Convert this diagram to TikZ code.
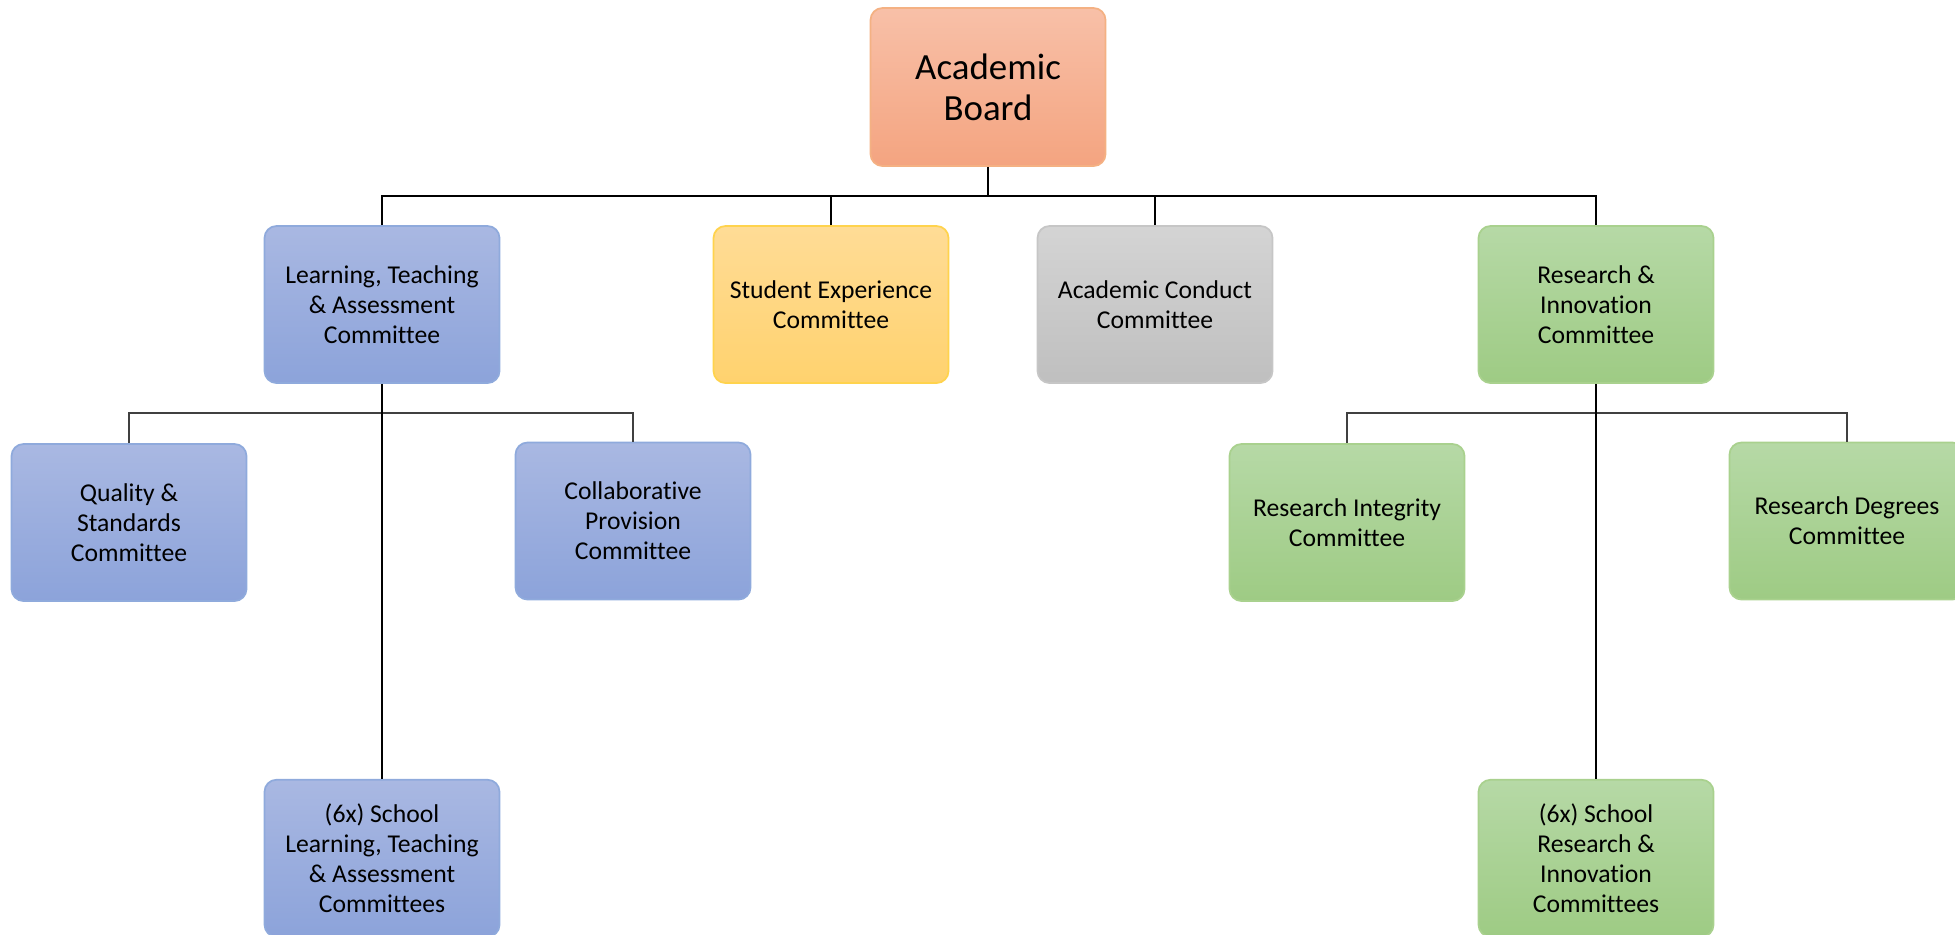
\documentclass[tikz,border=0pt]{standalone}
\usepackage{fontspec}
\setmainfont{Carlito}[Ligatures={NoCommon}]
\usepackage{tikz}
\usepackage{xcolor}
\usetikzlibrary{positioning, calc}
\definecolor{boardtop}{HTML}{F8C0A8}
\definecolor{boardbot}{HTML}{F4A480}
\definecolor{boardline}{HTML}{F4B183}
\definecolor{bluetop}{HTML}{A9B8E2}
\definecolor{bluebot}{HTML}{8CA3DA}
\definecolor{blueline}{HTML}{8FAADC}
\definecolor{yellowtop}{HTML}{FFDC96}
\definecolor{yellowbot}{HTML}{FFD26E}
\definecolor{yellowline}{HTML}{FFD34D}
\definecolor{greytop}{HTML}{D4D4D4}
\definecolor{greybot}{HTML}{BFBFBF}
\definecolor{greyline}{HTML}{C6C6C6}
\definecolor{greentop}{HTML}{B6D9A6}
\definecolor{greenbot}{HTML}{9ECB84}
\definecolor{greenline}{HTML}{A9D18E}
\begin{document}
\begin{tikzpicture}[block/.style={rectangle,rounded corners=1.2mm,line width=0.5pt,minimum width=2.35cm,minimum height=1.57cm,align=center,font=\fontsize{7.3}{8.5}\selectfont},
  board/.style={block,draw=boardline,top color=boardtop,bottom color=boardbot,font=\fontsize{10.5}{11.6}\selectfont},
  bluebox/.style={block,draw=blueline,top color=bluetop,bottom color=bluebot},
  yellowbox/.style={block,draw=yellowline,top color=yellowtop,bottom color=yellowbot},
  greybox/.style={block,draw=greyline,top color=greytop,bottom color=greybot},
  greenbox/.style={block,draw=greenline,top color=greentop,bottom color=greenbot},
  link/.style={line width=0.4pt,black},
  sublink/.style={line width=0.4pt,black!75},
  longlink/.style={line width=0.7pt,black}]
  \useasboundingbox (0,0) rectangle (19.55,-9.34);
  \node[board,minimum height=1.58cm] (ab) at (9.88,-0.87) {Academic\\Board};
  \node[bluebox] (ltac) at (3.82,-3.045) {Learning, Teaching\\\& Assessment\\Committee};
  \node[yellowbox] (sec) at (8.31,-3.045) {Student Experience\\Committee};
  \node[greybox] (acc) at (11.55,-3.045) {Academic Conduct\\Committee};
  \node[greenbox] (ric) at (15.96,-3.045) {Research \&\\Innovation\\Committee};
  \node[bluebox] (qsc) at (1.29,-5.225) {Quality \&\\Standards\\Committee};
  \node[bluebox] (cpc) at (6.33,-5.21) {Collaborative\\Provision\\Committee};
  \node[greenbox] (rintc) at (13.47,-5.225) {Research Integrity\\Committee};
  \node[greenbox] (rdc) at (18.47,-5.21) {Research Degrees\\Committee};
  \node[bluebox,below=3.95cm of ltac] (sltac) {(6x) School\\Learning, Teaching\\\& Assessment\\Committees};
  \node[greenbox,below=3.95cm of ric] (sric) {(6x) School\\Research \&\\Innovation\\Committees};
  \coordinate (topbus) at ($(ab.south)+(0,-0.29)$);
  \coordinate (ltabus) at ($(ltac.south)+(0,-0.29)$);
  \coordinate (ribus) at ($(ric.south)+(0,-0.29)$);
  \draw[link] (ab.south) -- (topbus);
  \draw[link] (ltac.north) |- (topbus) -| (ric.north);
  \draw[link] (sec.north) -- (sec.north |- topbus);
  \draw[link] (acc.north) -- (acc.north |- topbus);
  \draw[sublink] (qsc.north) |- (ltabus) -| (cpc.north);
  \draw[sublink] (rintc.north) |- (ribus) -| (rdc.north);
  \draw[longlink] (ltac.south) -- (sltac.north);
  \draw[longlink] (ric.south) -- (sric.north);
\end{tikzpicture}
\end{document}
